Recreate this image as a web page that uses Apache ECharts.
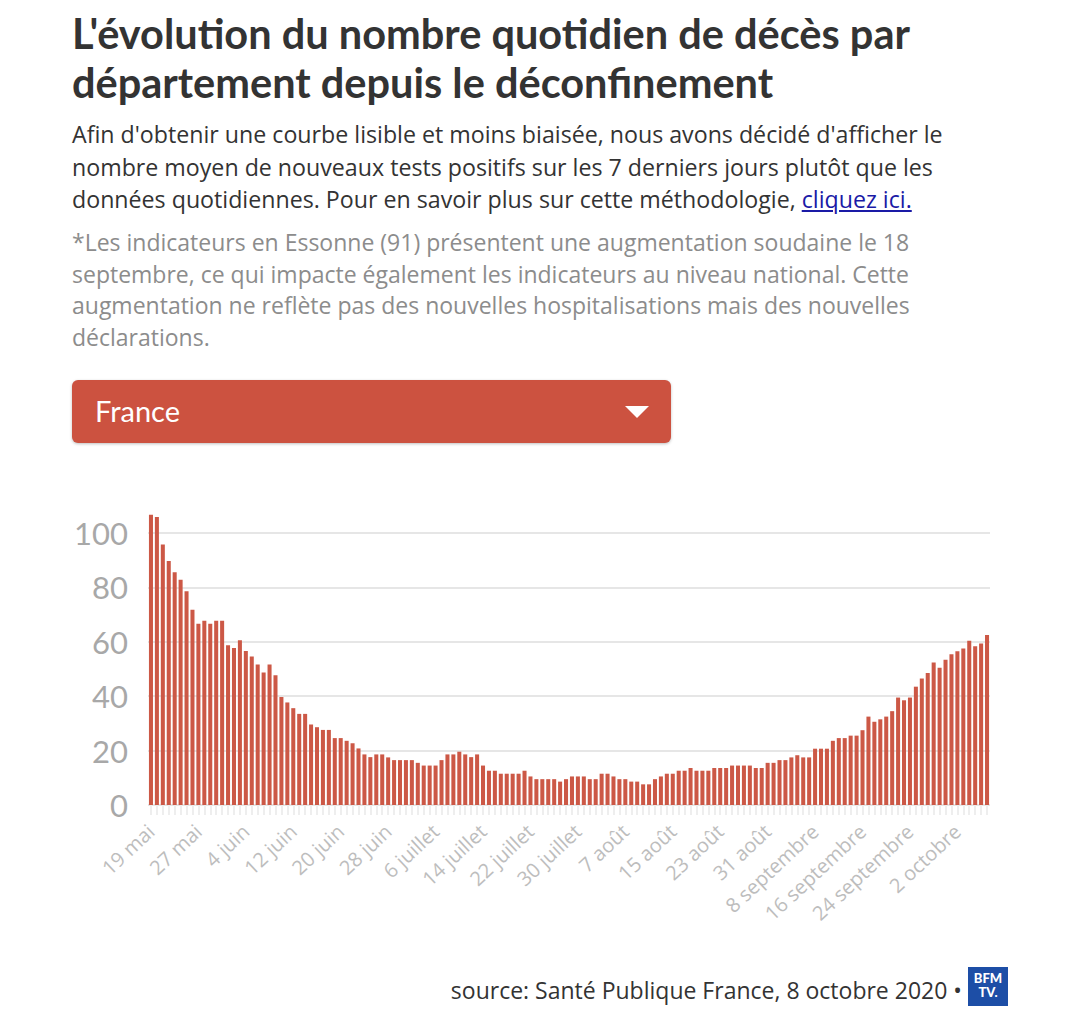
<!DOCTYPE html>
<html>
<head>
<meta charset="utf-8">
<script src="https://cdn.jsdelivr.net/npm/echarts@6/dist/echarts.min.js"></script>
<style>
  html, body { margin: 0; padding: 0; background: #fff; }
  body { width: 1080px; height: 1014px; position: relative; overflow: hidden; font-family: "Open Sans", Lato, sans-serif; }
  #title { position: absolute; left: 72px; top: 9px; width: 1000px; font-family: Lato, sans-serif; font-weight: 700; font-size: 41.5px; line-height: 49px; color: #333; margin: 0; white-space: nowrap; }
  #intro { position: absolute; left: 72px; top: 118px; width: 1000px; font-size: 23.2px; line-height: 32.5px; color: #333; margin: 0; white-space: nowrap; }
  #intro a { color: #1a1aa6; text-decoration: underline; }
  #note { position: absolute; left: 72px; top: 227px; width: 1000px; font-size: 23px; line-height: 31.5px; color: #8c8c8c; margin: 0; white-space: nowrap; }
  #dropdown { position: absolute; left: 72px; top: 380px; width: 599px; height: 63px; background: #cc5240; border-radius: 6px; box-shadow: 0 1px 3px rgba(0,0,0,0.25); }
  #dropdown span { position: absolute; left: 23px; top: 13px; color: #fff; font-family: Lato, sans-serif; font-size: 29px; line-height: 36px; }
  #dropdown i { position: absolute; left: 553px; top: 26px; width: 0; height: 0; border-left: 12px solid transparent; border-right: 12px solid transparent; border-top: 12px solid #fff; }
  #chart { position: absolute; left: 0; top: 460px; width: 1080px; height: 500px; }
  #source { position: absolute; right: 118px; top: 975px; font-size: 23px; line-height: 30px; color: #333; white-space: nowrap; }
  #logo { position: absolute; left: 968px; top: 967px; width: 40px; height: 39px; background: #1d4ea6; color: #fff; font-family: Lato, sans-serif; font-weight: 700; font-size: 13px; line-height: 13px; text-align: center; }
  #logo b { display: block; margin-top: 5px; }
</style>
</head>
<body>
<h1 id="title">L'évolution du nombre quotidien de décès par<br>département depuis le déconfinement</h1>
<p id="intro">Afin d'obtenir une courbe lisible et moins biaisée, nous avons décidé d'afficher le<br>nombre moyen de nouveaux tests positifs sur les 7 derniers jours plutôt que les<br>données quotidiennes. Pour en savoir plus sur cette méthodologie, <a href="#">cliquez ici.</a></p>
<p id="note">*Les indicateurs en Essonne (91) présentent une augmentation soudaine le 18<br>septembre, ce qui impacte également les indicateurs au niveau national. Cette<br>augmentation ne reflète pas des nouvelles hospitalisations mais des nouvelles<br>déclarations.</p>
<div id="dropdown"><span>France</span><i></i></div>
<div id="chart"></div>
<div id="source">source: Santé Publique France, 8 octobre 2020 •</div>
<div id="logo"><b>BFM</b><b style="margin-top:1px">TV.</b></div>
<script>
// Months covered (name, first day, last day) -> daily categories 19 mai .. 7 octobre
const months = [['mai', 19, 31], ['juin', 1, 30], ['juillet', 1, 31], ['août', 1, 31], ['septembre', 1, 30], ['octobre', 1, 7]];
const categories = [];
months.forEach(function (m) { for (let d = m[1]; d <= m[2]; d++) categories.push(d + ' ' + m[0]); });

// Daily deaths (7-day average)
const deathsMayJune = [106.7, 105.9, 95.8, 89.7, 85.6, 82.8, 78.6, 71.8, 66.6, 67.7, 66.6, 67.7, 67.7,
  58.7, 57.7, 60.6, 56.6, 54.6, 51.7, 48.7, 51.7, 47.7, 39.7, 37.7, 35.6, 33.5, 33.5, 29.6, 28.6, 27.6,
  27.6, 24.6, 24.6, 23.6, 22.7];
const deathsJuneJuly = [20.8, 18.6, 17.6, 18.6, 18.6, 17.5, 16.5, 16.5, 16.5, 16.5, 15.5, 14.5, 14.5,
  14.5, 16.5, 18.6, 18.6, 19.6, 18.6, 17.6, 18.6, 14.5, 12.6, 12.6, 11.5, 11.5, 11.5, 11.5, 12.6, 10.5,
  9.5, 9.5, 9.5, 9.5, 8.6, 9.5];
const deathsJulyAug = [10.5, 10.5, 10.5, 9.5, 9.5, 11.5, 11.5, 10.5, 9.5, 9.5, 8.6, 8.6, 7.6, 7.6, 9.5,
  10.5, 11.5, 11.5, 12.6, 12.6, 13.6, 12.6, 12.6, 12.6, 13.6, 13.6, 13.6, 14.5, 14.5, 14.5, 14.5, 13.6,
  13.6, 15.5, 15.5];
const deathsSepOct = [16.5, 16.5, 17.5, 18.3, 17.5, 17.5, 20.7, 20.7, 20.7, 23.6, 24.6, 24.6, 25.5, 25.5,
  27.5, 32.5, 30.6, 31.5, 32.5, 34.5, 39.5, 38.5, 39.5, 43.5, 46.5, 48.5, 52.4, 50.5, 53.4, 55.4, 56.5,
  57.5, 60.4, 58.4, 59.4, 62.5];
const deaths = deathsMayJune.concat(deathsJuneJuly, deathsJulyAug, deathsSepOct);

const yTicks = [0, 20, 40, 60, 80, 100];

const chart = echarts.init(document.getElementById('chart'), null, { renderer: 'svg' });
chart.setOption({
  animation: false,
  grid: { left: 148, right: 90, top: 73, bottom: 155 },
  xAxis: {
    type: 'category',
    data: categories,
    axisLine: { show: false },
    axisTick: { show: true, interval: 0, alignWithLabel: true, length: 10, lineStyle: { color: '#eeeeee', width: 2 } },
    axisLabel: {
      interval: function (i) { return i % 8 === 0; },
      rotate: 43, color: '#bdbdbd', fontSize: 20, fontFamily: 'Open Sans', margin: 23
    }
  },
  yAxis: {
    type: 'value',
    min: yTicks[0], max: yTicks[yTicks.length - 1], interval: 20,
    axisLine: { show: false }, axisTick: { show: false },
    axisLabel: { color: '#a8a8a8', fontSize: 31, fontFamily: 'Lato', margin: 20 },
    splitLine: { lineStyle: { color: '#e6e6e6', width: 2 } }
  },
  series: [{
    type: 'bar',
    data: deaths,
    clip: false,
    barCategoryGap: '32%',
    itemStyle: { color: '#cc5846' }
  }]
});
</script>
</body>
</html>
